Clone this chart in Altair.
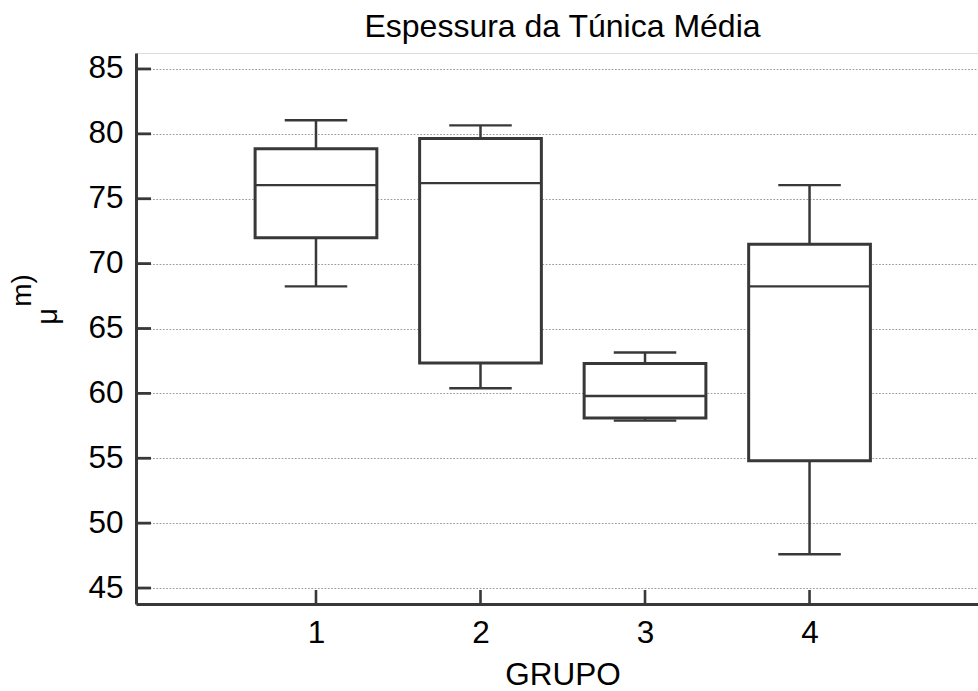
import altair as alt
import pandas as pd

# ---- data ----
groups = [1, 2, 3, 4]
lower = [68.25, 60.4, 57.9, 47.6]
q1 = [72.0, 62.35, 58.1, 54.8]
median = [76.05, 76.2, 59.8, 68.25]
q3 = [78.85, 79.65, 62.3, 71.5]
upper = [81.05, 80.65, 63.15, 76.05]
y_ticks = [45, 50, 55, 60, 65, 70, 75, 80, 85]
title_text = ["Espessura da Túnica Média"]
x_title = "GRUPO"
ytitle_parts = ["μ", "m)"]

FONT = "Liberation Sans"
INK = "#383838"

df = pd.DataFrame({"grupo": groups, "lower": lower, "q1": q1,
                   "median": median, "q3": q3, "upper": upper})
ticks_df = pd.DataFrame({"v": y_ticks})
grp_df = pd.DataFrame({"grupo": groups})

xs = alt.Scale(domain=[-0.094, 5.024], nice=False, zero=False)
ys = alt.Scale(domain=[43.77, 86.23], nice=False, zero=False)

x_axis = alt.Axis(values=groups, format="d", grid=False, ticks=False, tickSize=0,
                  domainColor=INK, domainWidth=3, labelFontSize=31.5, labelFont=FONT,
                  labelColor="black", labelPadding=13, labelFlush=False,
                  title=x_title, titleFontSize=31.5, titleFont=FONT, titleColor="black",
                  titleFontWeight="normal", titleX=426.5, titleY=80,
                  titleBaseline="alphabetic")
y_axis = alt.Axis(values=y_ticks, grid=True, gridColor="#9a9a9a", gridDash=[1.7, 1.6],
                  gridWidth=1, ticks=False, tickSize=0, domainColor=INK, domainWidth=3,
                  labelFontSize=31.5, labelFont=FONT, labelColor="black", labelPadding=13,
                  labelFlush=False, title="")

base = alt.Chart(df).transform_calculate(
    left="datum.grupo - 0.37", right="datum.grupo + 0.37",
    capl="datum.grupo - 0.19", capr="datum.grupo + 0.19")

whisk_up = base.mark_rule(color=INK, strokeWidth=2.5).encode(
    x=alt.X("grupo:Q", scale=xs, axis=x_axis),
    y=alt.Y("q3:Q", scale=ys, axis=y_axis), y2="upper:Q")
whisk_lo = base.mark_rule(color=INK, strokeWidth=2.5).encode(
    x=alt.X("grupo:Q", scale=xs, axis=x_axis),
    y=alt.Y("lower:Q", scale=ys, axis=y_axis), y2="q1:Q")
cap_up = base.mark_rule(color=INK, strokeWidth=2.4).encode(
    x=alt.X("capl:Q", scale=xs, axis=x_axis), x2="capr:Q",
    y=alt.Y("upper:Q", scale=ys, axis=y_axis))
cap_lo = base.mark_rule(color=INK, strokeWidth=2.4).encode(
    x=alt.X("capl:Q", scale=xs, axis=x_axis), x2="capr:Q",
    y=alt.Y("lower:Q", scale=ys, axis=y_axis))
box = base.mark_rect(fill="white", stroke=INK, strokeWidth=3).encode(
    x=alt.X("left:Q", scale=xs, axis=x_axis), x2="right:Q",
    y=alt.Y("q1:Q", scale=ys, axis=y_axis), y2="q3:Q")
med = base.mark_rule(color=INK, strokeWidth=2.4).encode(
    x=alt.X("left:Q", scale=xs, axis=x_axis), x2="right:Q",
    y=alt.Y("median:Q", scale=ys, axis=y_axis))

ytick_marks = alt.Chart(ticks_df).mark_rule(color=INK, strokeWidth=2.8).encode(
    y=alt.Y("v:Q", scale=ys, axis=y_axis), x=alt.value(0), x2=alt.value(15))
xtick_marks = alt.Chart(grp_df).mark_rule(color=INK, strokeWidth=2.6).encode(
    x=alt.X("grupo:Q", scale=xs, axis=x_axis), y=alt.value(551), y2=alt.value(537))

mu_txt = alt.Chart(pd.DataFrame({"t": [ytitle_parts[0]]})).mark_text(
    angle=270, fontSize=29, font=FONT, color="black", align="center",
    baseline="alphabetic").encode(text="t:N", x=alt.value(-79), y=alt.value(263.5))
m_txt = alt.Chart(pd.DataFrame({"t": [ytitle_parts[1]]})).mark_text(
    angle=270, fontSize=28, font=FONT, color="black", align="center",
    baseline="alphabetic").encode(text="t:N", x=alt.value(-105), y=alt.value(237.5))
title_txt = alt.Chart(pd.DataFrame({"t": title_text})).mark_text(
    fontSize=32, font=FONT, color="black", align="center",
    baseline="alphabetic").encode(text="t:N", x=alt.value(426.5), y=alt.value(-16.3))

chart = alt.layer(
    ytick_marks, xtick_marks, whisk_up, whisk_lo, cap_up, cap_lo, box, med,
    mu_txt, m_txt, title_txt
).properties(
    width=842, height=551,
    autosize=alt.AutoSizeParams(type="none"),
    padding={"left": 136, "top": 53, "right": 0, "bottom": 87},
).configure_view(strokeWidth=0).configure(background="white")

chart.save("out.html", embed_options={"renderer": "svg", "actions": False})
